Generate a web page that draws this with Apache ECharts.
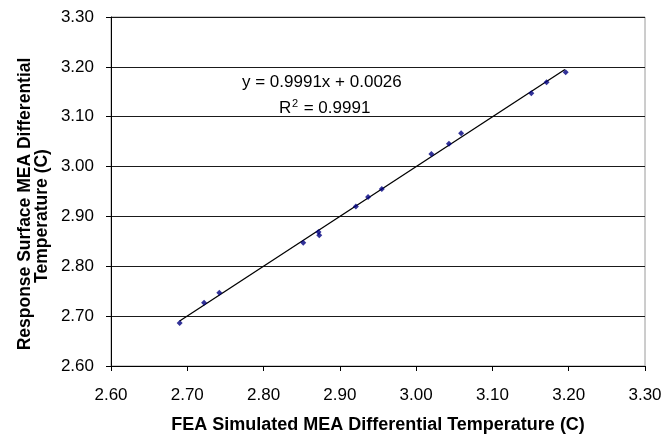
<!DOCTYPE html>
<html>
<head>
<meta charset="utf-8">
<script src="https://cdn.jsdelivr.net/npm/echarts@6/dist/echarts.min.js"></script>
<style>
  html, body { margin: 0; padding: 0; background: #fff; }
  #chart { width: 665px; height: 439px; }
</style>
</head>
<body>
<div id="chart"></div>
<script>
// FEA simulated (x) vs response surface (y) differential temperature
var feaTemp = [2.690, 2.722, 2.742, 2.852, 2.872, 2.873, 2.921, 2.937, 2.955, 3.020, 3.043, 3.059, 3.151, 3.171, 3.196];
var rsTemp  = [2.686, 2.727, 2.747, 2.847, 2.869, 2.862, 2.920, 2.939, 2.955, 3.025, 3.046, 3.067, 3.147, 3.169, 3.189];

// linear trend y = slope * x + intercept
var slope = 0.9991;
var intercept = 0.0026;
var trendX = [2.690, 3.195];

var points = feaTemp.map(function (x, i) { return [x, rsTemp[i]]; });
var trend = trendX.map(function (x) { return [x, slope * x + intercept]; });

var font = 'Liberation Sans, Arial, sans-serif';
var chart = echarts.init(document.getElementById('chart'));
chart.setOption({
  animation: false,
  grid: {
    left: 111, right: 20, top: 17, bottom: 70,
    show: true, borderColor: '#9a9a9a', borderWidth: 1
  },
  xAxis: {
    type: 'value', min: 2.6, max: 3.3, interval: 0.1,
    name: 'FEA Simulated MEA Differential Temperature (C)',
    nameLocation: 'middle', nameGap: 50,
    nameTextStyle: { fontFamily: font, fontWeight: 'bold', fontSize: 18, color: '#000' },
    axisLine: { lineStyle: { color: '#000' } },
    axisTick: { show: true, length: 5, lineStyle: { color: '#000' } },
    axisLabel: { fontFamily: font, fontSize: 17, color: '#000', margin: 21,
      formatter: function (v) { return v.toFixed(2); } },
    splitLine: { show: false }
  },
  yAxis: {
    type: 'value', min: 2.6, max: 3.3, interval: 0.1,
    axisLine: { show: true, lineStyle: { color: '#000' } },
    axisTick: { show: true, length: 5, lineStyle: { color: '#000' } },
    axisLabel: { fontFamily: font, fontSize: 17, color: '#000', margin: 17,
      formatter: function (v) { return v.toFixed(2); } },
    splitLine: { show: true, lineStyle: { color: '#1a1a1a', width: 1 } }
  },
  graphic: [
    // y axis title, two rotated lines
    { type: 'text', x: 25, y: 204, rotation: Math.PI / 2,
      style: { text: 'Response Surface MEA Differential', font: 'bold 17.5px ' + font,
        fill: '#000', align: 'center', verticalAlign: 'middle' } },
    { type: 'text', x: 42, y: 216, rotation: Math.PI / 2,
      style: { text: 'Temperature (C)', font: 'bold 17.5px ' + font,
        fill: '#000', align: 'center', verticalAlign: 'middle' } },
    // trend equation
    { type: 'text', left: 242, top: 74,
      style: { text: 'y = 0.9991x + 0.0026', font: '17px ' + font, fill: '#000' } },
    { type: 'text', left: 279, top: 100,
      style: { text: 'R', font: '17px ' + font, fill: '#000' } },
    { type: 'text', left: 292, top: 98,
      style: { text: '2', font: '11px ' + font, fill: '#000' } },
    { type: 'text', left: 299, top: 100,
      style: { text: ' = 0.9991', font: '17px ' + font, fill: '#000' } }
  ],
  series: [
    {
      type: 'line', data: trend, symbol: 'none', silent: true,
      lineStyle: { color: '#000', width: 1.3 }, z: 2
    },
    {
      type: 'scatter', data: points, symbol: 'diamond', symbolSize: 6,
      itemStyle: { color: '#000080' }, z: 3
    }
  ]
});
</script>
</body>
</html>
